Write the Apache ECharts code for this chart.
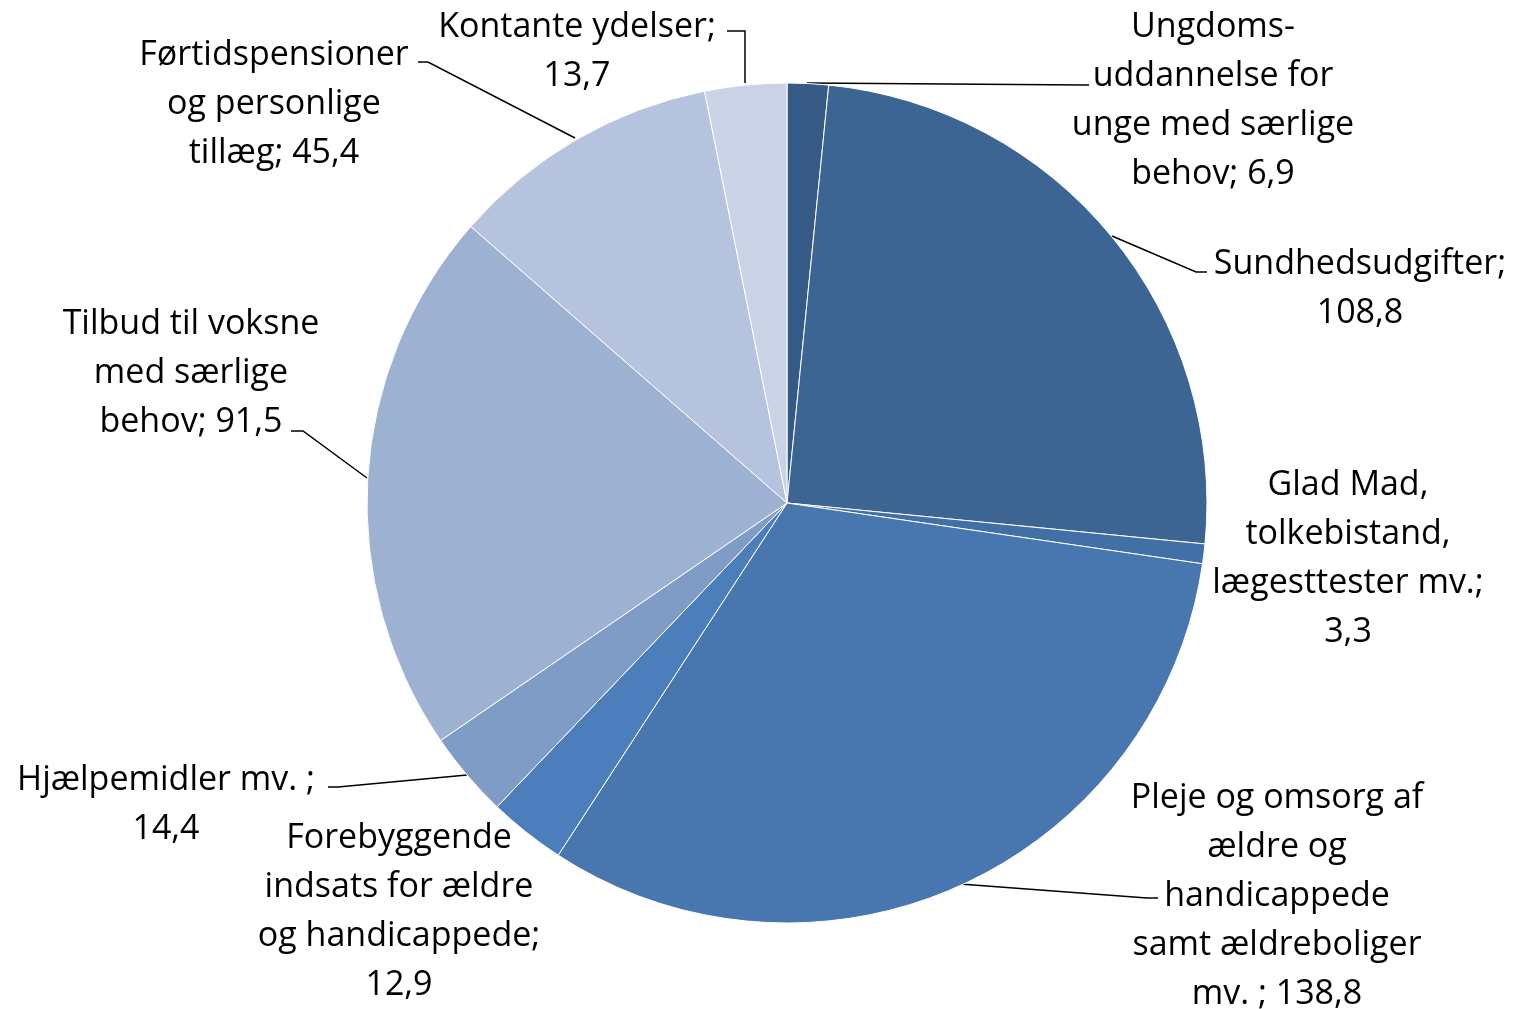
<!DOCTYPE html>
<html><head><meta charset="utf-8">
<script src="https://cdn.jsdelivr.net/npm/echarts@6/dist/echarts.min.js"></script>
<style>html,body{margin:0;padding:0;background:#fff}#c{width:1515px;height:1009px}</style>
</head><body><div id="c"></div>
<script>
const categories = [
  "Ungdomsuddannelse for unge med særlige behov",
  "Sundhedsudgifter",
  "Glad Mad, tolkebistand, lægesttester mv.",
  "Pleje og omsorg af ældre og handicappede samt ældreboliger mv.",
  "Forebyggende indsats for ældre og handicappede",
  "Hjælpemidler mv.",
  "Tilbud til voksne med særlige behov",
  "Førtidspensioner og personlige tillæg",
  "Kontante ydelser"
];
const values = [6.9, 108.8, 3.3, 138.8, 12.9, 14.4, 91.5, 45.4, 13.7];
const labelTemplates = [
  "Ungdoms-\nuddannelse for\nunge med særlige\nbehov; {v}",
  "Sundhedsudgifter;\n{v}",
  "Glad Mad,\ntolkebistand,\nlægesttester mv.;\n{v}",
  "Pleje og omsorg af\nældre og\nhandicappede\nsamt ældreboliger\nmv. ; {v}",
  "Forebyggende\nindsats for ældre\nog handicappede;\n{v}",
  "Hjælpemidler mv. ;\n{v}",
  "Tilbud til voksne\nmed særlige\nbehov; {v}",
  "Førtidspensioner\nog personlige\ntillæg; {v}",
  "Kontante ydelser;\n{v}"
];
const colors = ["#345A85","#3D6593","#4270A6","#4877B0","#4B7EBB","#7F9CC7","#9DB1D3","#B5C3DE","#CAD3E6"];
const hasLine = [true,true,false,true,false,true,true,true,true];

// label placement (x = centre, y = top of text block) and leader line points
const labelPos = [
  [1213, 3], [1360, 240], [1348, 461], [1277, 774], [399, 814],
  [166, 756], [191, 300], [274, 31], [577, 3]
];
const leaderPts = [
  [[807,83],[1086,85],[1089,85]],
  [[1112,236],[1196,272],[1207,272]],
  null,
  [[960,884],[1147,898],[1158,898]],
  null,
  [[467,775],[338,787],[328,787]],
  [[367,478],[303,431],[291,431]],
  [[575,138],[428,62],[418,62]],
  [[745,83],[745,31],[727,31]]
];

const fmt = v => v.toFixed(1).replace('.', ',');
const chart = echarts.init(document.getElementById('c'), null, {renderer:'canvas'});
chart.setOption({
  animation: false,
  series: [{
    type: 'pie',
    center: [787, 503],
    radius: 420,
    startAngle: 90,
    clockwise: true,
    avoidLabelOverlap: false,
    itemStyle: {borderColor: '#ffffff', borderWidth: 1},
    label: {
      show: true,
      position: 'outside',
      color: '#000',
      fontFamily: '"Open Sans", sans-serif',
      fontSize: 34,
      lineHeight: 49,
      align: 'center',
      formatter: p => labelTemplates[p.dataIndex].replace('{v}', fmt(p.value))
    },
    labelLine: {show: true, lineStyle: {color: '#000', width: 1.5}, length: 10, length2: 10},
    labelLayout: p => ({
      x: labelPos[p.dataIndex][0],
      y: labelPos[p.dataIndex][1],
      align: 'center',
      verticalAlign: 'top',
      labelLinePoints: leaderPts[p.dataIndex] || undefined
    }),
    emphasis: {disabled: true},
    data: categories.map((c, i) => ({
      name: c, value: values[i],
      itemStyle: {color: colors[i]},
      labelLine: {show: hasLine[i]}
    }))
  }]
});
</script></body></html>
